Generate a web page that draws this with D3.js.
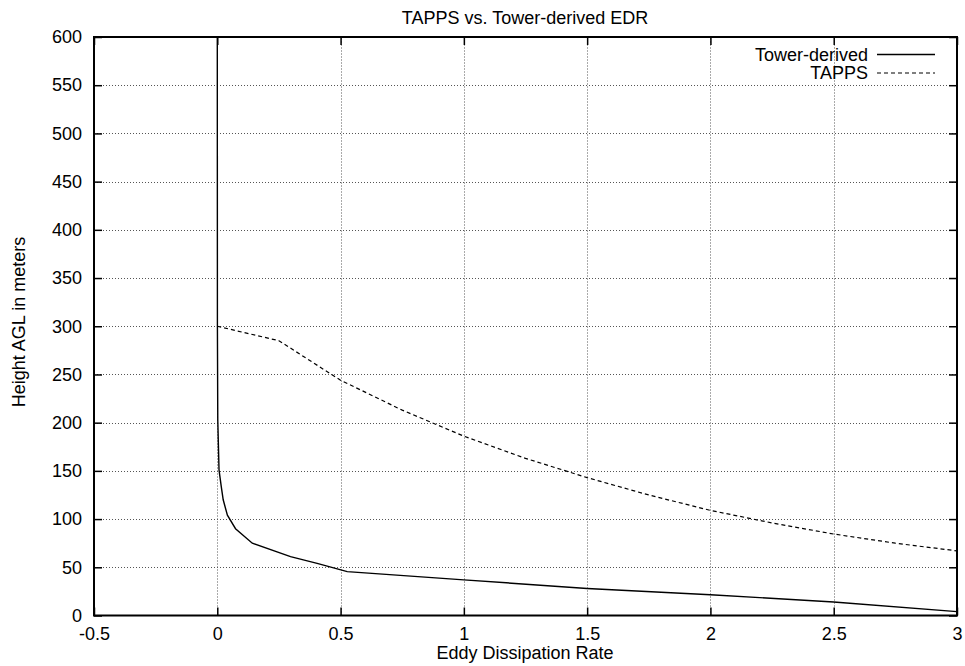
<!DOCTYPE html>
<html>
<head>
<meta charset="utf-8">
<script src="https://cdn.jsdelivr.net/npm/d3@7"></script>
<style>
  html, body { margin: 0; padding: 0; background: #fff; }
  svg { display: block; }
  text { font-family: "Liberation Sans", Arial, Helvetica, sans-serif; fill: #000; }
</style>
</head>
<body>
<svg id="chart" width="965" height="666"></svg>
<script>
// ---- data ----
const towerEDR    = [0, 0.0005, 0.002, 0.007, 0.016, 0.024, 0.041, 0.074, 0.142, 0.297, 0.405, 0.527, 1.0, 1.5, 2.0, 2.5, 3.0];
const towerHeight = [600, 300, 203, 151, 134, 120, 104, 90, 75, 61, 54, 45.5, 37, 28, 21.5, 14, 4];
const tappsEDR    = [0, 0.25, 0.5, 0.75, 1.0, 1.25, 1.5, 1.75, 2.0, 2.25, 2.5, 2.75, 3.0];
const tappsHeight = [300, 285, 244, 213, 186, 163, 143, 125, 109, 96, 84.5, 75, 67];
const xTicks = [-0.5, 0, 0.5, 1, 1.5, 2, 2.5, 3];
const yTicks = [0, 50, 100, 150, 200, 250, 300, 350, 400, 450, 500, 550, 600];
const seriesNames = ["Tower-derived", "TAPPS"];
const titleText = "TAPPS vs. Tower-derived EDR";
const xLabel = "Eddy Dissipation Rate";
const yLabel = "Height AGL in meters";

// ---- layout ----
const W = 965, H = 666;
const m = {left: 94, right: 8, top: 37, bottom: 50.5};
const svg = d3.select("#chart");
const x = d3.scaleLinear().domain([-0.5, 3]).range([m.left, W - m.right]);
const y = d3.scaleLinear().domain([0, 600]).range([H - m.bottom, m.top]);
const fs = 18;
const fmt = d => String(d);

// grid
const grid = svg.append("g").attr("stroke", "#555").attr("stroke-width", 1).attr("stroke-dasharray", "1,2");
grid.selectAll("line.gx").data(xTicks.filter(d => d > -0.5 && d < 3)).join("line")
  .attr("x1", d => Math.round(x(d)) + 0.5).attr("x2", d => Math.round(x(d)) + 0.5)
  .attr("y1", y(0)).attr("y2", y(600));
grid.selectAll("line.gy").data(yTicks.filter(d => d > 0 && d < 600)).join("line")
  .attr("y1", d => Math.round(y(d)) + 0.5).attr("y2", d => Math.round(y(d)) + 0.5)
  .attr("x1", x(-0.5)).attr("x2", x(3));

// axes with inward ticks (mirrored)
const tl = 8;
const axB = svg.append("g").attr("transform", `translate(0,${y(0)})`)
  .call(d3.axisBottom(x).tickValues(xTicks).tickSize(-tl).tickPadding(12).tickFormat(fmt));
const axT = svg.append("g").attr("transform", `translate(0,${y(600)})`)
  .call(d3.axisTop(x).tickValues(xTicks).tickSize(-tl).tickFormat(""));
const axL = svg.append("g").attr("transform", `translate(${x(-0.5)},0)`)
  .call(d3.axisLeft(y).tickValues(yTicks).tickSize(-tl).tickPadding(12).tickFormat(fmt));
const axR = svg.append("g").attr("transform", `translate(${x(3)},0)`)
  .call(d3.axisRight(y).tickValues(yTicks).tickSize(-tl).tickFormat(""));
[axB, axT, axL, axR].forEach(a => {
  a.select(".domain").remove();
  a.selectAll(".tick line").attr("stroke", "#000").attr("stroke-width", 1.5);
  a.selectAll("text").attr("font-size", fs).attr("font-family", "Liberation Sans, Arial, sans-serif").attr("fill", "#000");
});
axB.selectAll("text").attr("dy", "0.71em");

// clip
svg.append("clipPath").attr("id", "clip").append("rect")
  .attr("x", x(-0.5)).attr("y", y(600)).attr("width", x(3) - x(-0.5)).attr("height", y(0) - y(600));

const line = d3.line().x(d => x(d[0])).y(d => y(d[1]));
const towerData = towerEDR.map((v, i) => [v, towerHeight[i]]);
const tappsData = tappsEDR.map((v, i) => [v, tappsHeight[i]]);

const plot = svg.append("g").attr("clip-path", "url(#clip)");
plot.append("path").datum(towerData).attr("d", line)
  .attr("fill", "none").attr("stroke", "#000").attr("stroke-width", 1.4);
plot.append("path").datum(tappsData).attr("d", line)
  .attr("fill", "none").attr("stroke", "#000").attr("stroke-width", 1.2).attr("stroke-dasharray", "4,3");

// border
svg.append("rect").attr("x", x(-0.5)).attr("y", y(600))
  .attr("width", x(3) - x(-0.5)).attr("height", y(0) - y(600))
  .attr("fill", "none").attr("stroke", "#000").attr("stroke-width", 2);

// legend
const leg = svg.append("g");
const legRows = [{name: seriesNames[0], dash: null, w: 1.4}, {name: seriesNames[1], dash: "4,3", w: 1.2}];
legRows.forEach((r, i) => {
  const ly = 54.5 + i * 18.5;
  leg.append("text").attr("x", 868).attr("y", ly).attr("dy", "0.35em")
    .attr("text-anchor", "end").attr("font-size", fs).text(r.name);
  leg.append("line").attr("x1", 877).attr("x2", 935).attr("y1", ly).attr("y2", ly)
    .attr("stroke", "#000").attr("stroke-width", r.w).attr("stroke-dasharray", r.dash);
});

// titles
svg.append("text").attr("x", 525).attr("y", 24).attr("text-anchor", "middle").attr("font-size", fs).text(titleText);
svg.append("text").attr("x", 525).attr("y", 659).attr("text-anchor", "middle").attr("font-size", fs).text(xLabel);
svg.append("text").attr("transform", `translate(25,322) rotate(-90)`).attr("text-anchor", "middle").attr("font-size", fs).text(yLabel);
</script>
</body>
</html>
